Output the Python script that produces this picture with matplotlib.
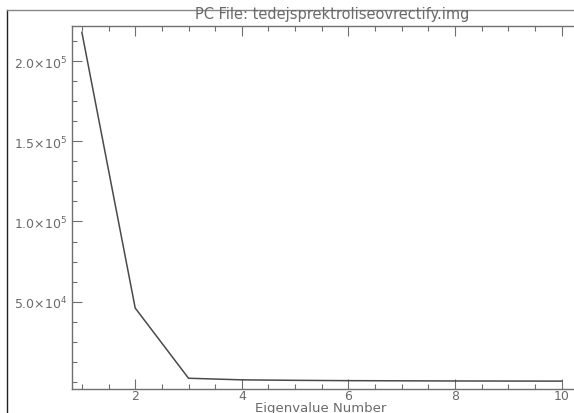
import matplotlib
matplotlib.use("Agg")
import matplotlib.pyplot as plt
from matplotlib.lines import Line2D
from matplotlib.ticker import FixedLocator, MultipleLocator

# eigenvalue spectrum
eigen_number = [1, 2, 3, 4, 5, 6, 7, 8, 9, 10]
eigen_value = [218000, 46000, 2200, 1200, 900, 700, 600, 500, 450, 400]

y_ticks = [5.0e4, 1.0e5, 1.5e5, 2.0e5]
y_labels = [r"5.0$\times$10$^4$", r"1.0$\times$10$^5$", r"1.5$\times$10$^5$", r"2.0$\times$10$^5$"]
x_ticks = [2, 4, 6, 8, 10]

title = "PC File: tedejsprektroliseovrectify.img"
xlabel = "Eigenvalue Number"

text_color = "#6a6a6a"
axis_color = "#707070"
line_color = "#4a4a4a"

fig = plt.figure(figsize=(5.74, 4.14), dpi=100)
ax = fig.add_axes([0.125, 0.058, 0.875, 0.877])

ax.plot(eigen_number, eigen_value, color=line_color, lw=1.1)

ax.set_xlim(0.81, 10.23)
ax.set_ylim(-4500, 2.22e5)

ax.xaxis.set_major_locator(FixedLocator(x_ticks))
ax.xaxis.set_minor_locator(MultipleLocator(0.5))
ax.yaxis.set_major_locator(FixedLocator(y_ticks))
ax.yaxis.set_minor_locator(MultipleLocator(1.25e4))
ax.set_yticklabels(y_labels)

ax.tick_params(which="both", direction="in", color=axis_color, top=True, right=False,
               labelsize=9, labelcolor=text_color, width=0.8)
ax.tick_params(which="major", length=7)
ax.tick_params(which="minor", length=3.5)
ax.tick_params(axis="x", pad=0)
ax.tick_params(axis="y", pad=3)

for side in ("left", "bottom", "top"):
    ax.spines[side].set_color(axis_color)
    ax.spines[side].set_linewidth(1.0)
ax.spines["right"].set_visible(False)

fig.text(0.578, 0.966, title, ha="center", va="center", fontsize=10.5, color=text_color)
fig.text(0.558, 0.013, xlabel, ha="center", va="center", fontsize=9.5, color=text_color)

# outer frame of the screenshot
fig.add_artist(Line2D([0.012, 0.012], [0.0, 0.973], color="#222222", lw=1.0))
fig.add_artist(Line2D([0.012, 1.0], [0.973, 0.973], color="#888888", lw=1.0))

fig.savefig("out.png", dpi=100, facecolor="white")
